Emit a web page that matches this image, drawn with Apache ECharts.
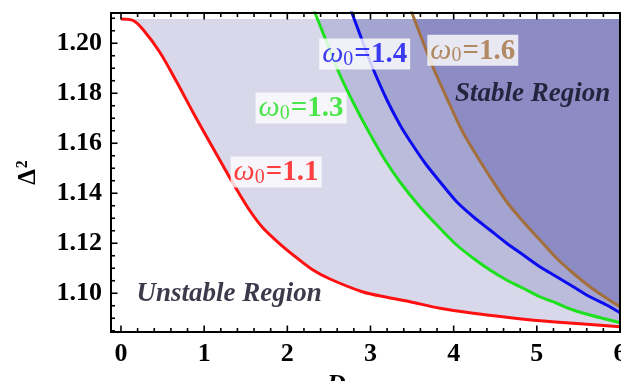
<!DOCTYPE html>
<html>
<head>
<meta charset="utf-8">
<script src="https://cdn.jsdelivr.net/npm/echarts@6/dist/echarts.min.js"></script>
<style>html,body{margin:0;padding:0;background:#fff}#c{width:621px;height:381px}</style>
</head>
<body>
<div id="c"></div>
<script>
// ---- data ----
const D_RED   = [0, 0.145, 0.265, 0.469, 0.674, 0.867, 1.035, 1.215, 1.395, 1.552, 1.708, 1.912, 2.117, 2.309, 2.513, 2.910, 3.198, 3.475, 3.835, 4.236, 4.637, 5.037, 5.438, 6.0];
const V_RED   = [1.2097, 1.2091, 1.2055, 1.1963, 1.1843, 1.1723, 1.1623, 1.1517, 1.1413, 1.1329, 1.1261, 1.1197, 1.1141, 1.1093, 1.1057, 1.1005, 1.0984, 1.0966, 1.0940, 1.0920, 1.0904, 1.0890, 1.0880, 1.0866];
const D_GREEN = [2.25, 2.333, 2.477, 2.633, 2.814, 2.994, 3.175, 3.355, 3.596, 3.835, 4.036, 4.236, 4.436, 4.637, 4.837, 5.037, 5.238, 5.438, 5.638, 5.839, 6.0];
const V_GREEN = [1.2180, 1.2121, 1.2001, 1.1873, 1.1749, 1.1637, 1.1533, 1.1445, 1.1345, 1.1260, 1.1193, 1.1140, 1.1093, 1.1053, 1.1020, 1.0986, 1.0960, 1.0933, 1.0913, 1.0896, 1.0882];
const D_BLUE  = [2.70, 2.777, 2.898, 3.017, 3.198, 3.355, 3.475, 3.655, 3.835, 4.036, 4.236, 4.436, 4.637, 4.837, 5.037, 5.238, 5.438, 5.638, 5.839, 6.0];
const V_BLUE  = [1.2185, 1.2121, 1.2013, 1.1909, 1.1773, 1.1673, 1.1609, 1.1521, 1.1446, 1.1366, 1.1306, 1.1253, 1.1200, 1.1153, 1.1106, 1.1066, 1.1026, 1.0986, 1.0953, 1.0922];
const D_BROWN = [3.42, 3.499, 3.751, 3.956, 4.096, 4.236, 4.436, 4.637, 4.837, 5.037, 5.238, 5.438, 5.638, 5.839, 6.0];
const V_BROWN = [1.2190, 1.2121, 1.1905, 1.1753, 1.1653, 1.1573, 1.1466, 1.1366, 1.1286, 1.1213, 1.1140, 1.1080, 1.1026, 1.0980, 1.0946];
const FILL_TOP = 1.2097;

const CURVE_NAMES  = ['ω0=1.1', 'ω0=1.3', 'ω0=1.4', 'ω0=1.6'];
const CURVE_LABELS = ['1.1', '1.3', '1.4', '1.6'];
const LABEL_POS    = [[1.865, 1.1485], [2.165, 1.1741], [2.93, 1.1957], [4.23, 1.1972]];
const REGION_TEXT  = ['Stable Region', 'Unstable Region'];
const REGION_POS   = [[4.95, 1.1797], [1.30, 1.0997]];

const X_MIN = -0.12, X_MAX = 6.0, Y_MIN = 1.0845, Y_MAX = 1.2121;
const X_TICKS = [0, 1, 2, 3, 4, 5, 6];
const Y_TICKS = [1.10, 1.12, 1.14, 1.16, 1.18, 1.20];
const X_MINOR = []; for (let i = 0; i <= 30; i++) { if (i % 5) X_MINOR.push(+(i * 0.2).toFixed(2)); }
const Y_MINOR = []; for (let i = 0; i <= 25; i++) { const v = +(1.085 + i * 0.005).toFixed(3); if (Math.round(v * 1000) % 20) Y_MINOR.push(v); }

const LINE_COLORS = ['#ff1010', '#1ee01e', '#0c0cf0', '#a3703d'];
const FILL_COLORS = ['#d8d8ea', '#bbbbdc', '#a4a4d0', '#8d8bc4'];

const curves = [[D_RED, V_RED], [D_GREEN, V_GREEN], [D_BLUE, V_BLUE], [D_BROWN, V_BROWN]];

const FONT = '"Liberation Serif", "Times New Roman", serif';
const series = [];
curves.forEach(([ds, vs], i) => {
  series.push({
    type: 'line', name: 'fill' + i, z: 1 + i, silent: true,
    data: ds.map((d, k) => [d, Math.min(vs[k], FILL_TOP)]),
    smooth: 0.3, showSymbol: false, symbol: 'none',
    lineStyle: { width: 0, opacity: 0 },
    areaStyle: { color: FILL_COLORS[i], opacity: 1, origin: FILL_TOP }
  });
});
curves.forEach(([ds, vs], i) => {
  series.push({
    type: 'line', name: CURVE_NAMES[i], z: 10, silent: true,
    data: ds.map((d, k) => [d, vs[k]]),
    smooth: 0.3, showSymbol: false, symbol: 'none',
    lineStyle: { width: 3, color: LINE_COLORS[i] }
  });
});
// curve labels
series.push({
  type: 'scatter', z: 20, silent: true, symbolSize: 0,
  data: LABEL_POS.map((p, i) => ({ value: p, name: CURVE_LABELS[i], itemStyle: { color: LINE_COLORS[i] },
    label: {
      show: true, position: 'inside', backgroundColor: '#fff', padding: [1, 3, 0, 3],
      formatter: '{w|ω}{s|0}{t|=' + CURVE_LABELS[i] + '}',
      rich: {
        w: { fontFamily: FONT, fontStyle: 'italic', fontSize: 30, color: LINE_COLORS[i], verticalAlign: 'bottom' },
        s: { fontFamily: FONT, fontSize: 20, color: LINE_COLORS[i], padding: [10, 1, 0, 0], verticalAlign: 'bottom' },
        t: { fontFamily: FONT, fontWeight: 'bold', fontSize: 29, color: LINE_COLORS[i], verticalAlign: 'bottom' }
      }
    } }))
});
series.push({
  type: 'scatter', z: 20, silent: true, symbolSize: 0,
  data: REGION_POS.map((p, i) => ({ value: p, name: REGION_TEXT[i] })),
  label: { show: true, position: 'inside', formatter: '{b}', fontFamily: FONT, fontStyle: 'italic', fontWeight: 'bold', fontSize: 27, color: '#0a0a1e' }
});

const AXZ = 50;
const frameLine = { show: true, onZero: false, lineStyle: { color: '#000', width: 2 } };
const option = {
  animation: false,
  backgroundColor: '#fff',
  grid: { left: 111, right: 1, top: 13, bottom: 49, containLabel: false, outerBoundsMode: 'none' },
  xAxis: [
    { type: 'value', min: X_MIN, max: X_MAX, position: 'bottom', z: AXZ,
      name: 'D', nameLocation: 'middle', nameGap: 38,
      nameTextStyle: { fontFamily: FONT, fontStyle: 'italic', fontWeight: 'bold', fontSize: 26, color: '#000', padding: [0, 58, 0, 0] },
      axisLine: frameLine, axisTick: { show: false },
      axisLabel: { show: true, customValues: X_TICKS, margin: 9, fontFamily: FONT, fontWeight: 'bold', fontSize: 26, color: '#000' },
      splitLine: { show: false } },
    { type: 'value', min: X_MIN, max: X_MAX, position: 'top', z: AXZ,
      axisLine: frameLine, axisLabel: { show: false }, splitLine: { show: false }, axisTick: { show: false } }
  ],
  yAxis: [
    { type: 'value', min: Y_MIN, max: Y_MAX, position: 'left', z: AXZ,
      name: '{d|Δ}{s|2}', nameLocation: 'middle', nameGap: 70, nameRotate: 90,
      nameTextStyle: { fontFamily: FONT, fontWeight: 'bold', color: '#000',
        rich: { d: { fontFamily: FONT, fontWeight: 'bold', fontSize: 25, color: '#000', verticalAlign: 'bottom' },
                s: { fontFamily: FONT, fontWeight: 'bold', fontSize: 16, color: '#000', verticalAlign: 'top', padding: [0, 0, 10, 1] } } },
      axisLine: frameLine, axisTick: { show: false },
      axisLabel: { show: true, customValues: Y_TICKS, margin: 9, formatter: v => v.toFixed(2), fontFamily: FONT, fontWeight: 'bold', fontSize: 26, color: '#000' },
      splitLine: { show: false } },
    { type: 'value', min: Y_MIN, max: Y_MAX, position: 'right', z: AXZ,
      axisLine: frameLine, axisLabel: { show: false }, splitLine: { show: false }, axisTick: { show: false } }
  ],
  series: series
};
const chart = echarts.init(document.getElementById('c'), null, { renderer: 'canvas' });
chart.setOption(option);

// inward frame ticks positioned through the axes' own scales
const px = v => chart.convertToPixel({ xAxisIndex: 0 }, v);
const py = v => chart.convertToPixel({ yAxisIndex: 0 }, v);
const xL = px(X_MIN), yB = py(Y_MIN), yT = py(Y_MAX);
const ticks = [];
const tick = (x1, y1, x2, y2) => ticks.push({ type: 'line', z: 100, silent: true,
  shape: { x1, y1, x2, y2 }, style: { stroke: '#000', lineWidth: 1.6 } });
X_TICKS.forEach(v => { const x = px(v); tick(x, yB, x, yB - 6.5); tick(x, yT, x, yT + 6.5); });
X_MINOR.forEach(v => { const x = px(v); tick(x, yB, x, yB - 4); tick(x, yT, x, yT + 4); });
Y_TICKS.forEach(v => { const y = py(v); tick(xL, y, xL + 6.5, y); });
Y_MINOR.forEach(v => { const y = py(v); tick(xL, y, xL + 4, y); });
chart.setOption({ graphic: ticks });
</script>
</body>
</html>
